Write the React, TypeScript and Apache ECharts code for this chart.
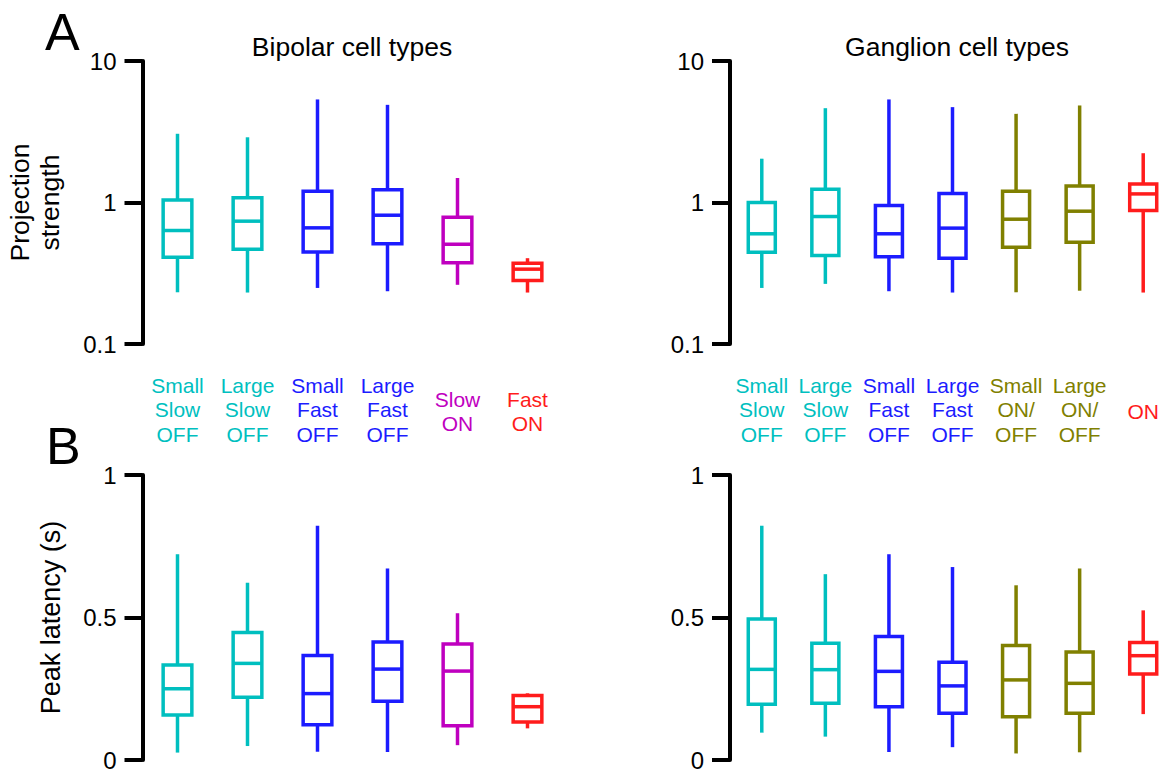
import React, { useEffect, useRef } from "react";
import * as echarts from "echarts";

const CYAN = "#00bfbf";
const BLUE = "#1c1cff";
const MAGENTA = "#bf00bf";
const RED = "#ff1c1c";
const OLIVE = "#808000";

const bipolarLabels = ["Small\nSlow\nOFF", "Large\nSlow\nOFF", "Small\nFast\nOFF", "Large\nFast\nOFF", "Slow\nON", "Fast\nON"];
const bipolarColors = [CYAN, CYAN, BLUE, BLUE, MAGENTA, RED];
const ganglionLabels = ["Small\nSlow\nOFF", "Large\nSlow\nOFF", "Small\nFast\nOFF", "Large\nFast\nOFF", "Small\nON/\nOFF", "Large\nON/\nOFF", "ON"];
const ganglionColors = [CYAN, CYAN, BLUE, BLUE, OLIVE, OLIVE, RED];

// [min, q1, median, q3, max]
const bipolarProjection = [
  [0.232, 0.41, 0.634, 1.04, 3.06],
  [0.231, 0.468, 0.738, 1.08, 2.89],
  [0.249, 0.446, 0.662, 1.2, 5.35],
  [0.236, 0.511, 0.813, 1.23, 4.9],
  [0.262, 0.375, 0.507, 0.787, 1.49],
  [0.231, 0.281, 0.338, 0.372, 0.404],
];
const ganglionProjection = [
  [0.249, 0.445, 0.601, 1.0, 2.04],
  [0.266, 0.422, 0.796, 1.24, 4.64],
  [0.236, 0.413, 0.601, 0.953, 5.35],
  [0.231, 0.404, 0.659, 1.16, 4.72],
  [0.232, 0.483, 0.762, 1.2, 4.23],
  [0.238, 0.524, 0.868, 1.31, 4.85],
  [0.231, 0.878, 1.15, 1.35, 2.23],
];
const bipolarLatency = [
  [0.026, 0.158, 0.25, 0.333, 0.722],
  [0.049, 0.22, 0.339, 0.447, 0.622],
  [0.029, 0.124, 0.233, 0.367, 0.822],
  [0.028, 0.206, 0.319, 0.414, 0.672],
  [0.052, 0.12, 0.312, 0.407, 0.515],
  [0.111, 0.133, 0.187, 0.226, 0.234],
];
const ganglionLatency = [
  [0.096, 0.196, 0.318, 0.495, 0.822],
  [0.082, 0.199, 0.317, 0.41, 0.652],
  [0.028, 0.187, 0.311, 0.433, 0.722],
  [0.045, 0.164, 0.26, 0.343, 0.677],
  [0.023, 0.152, 0.281, 0.402, 0.613],
  [0.027, 0.164, 0.269, 0.379, 0.672],
  [0.161, 0.302, 0.366, 0.412, 0.525],
];

const FONT = "'Liberation Sans', Arial, Helvetica, sans-serif";
const LABEL_LINE = 24.3;

function makeRender(colors: string[], n: number, ratio: number) {
  return (params: any, api: any) => {
    const i = api.value(0);
    const pMin = api.coord([i, api.value(1)]);
    const pQ1 = api.coord([i, api.value(2)]);
    const pMed = api.coord([i, api.value(3)]);
    const pQ3 = api.coord([i, api.value(4)]);
    const pMax = api.coord([i, api.value(5)]);
    const w = (params.coordSys.width / n) * ratio;
    const cx = pMed[0];
    const c = colors[params.dataIndex];
    const st = { stroke: c, lineWidth: 3.5, fill: "none" };
    return {
      type: "group",
      children: [
        { type: "line", shape: { x1: cx, y1: pMax[1], x2: cx, y2: pQ3[1] }, style: st },
        { type: "line", shape: { x1: cx, y1: pQ1[1], x2: cx, y2: pMin[1] }, style: st },
        { type: "rect", shape: { x: cx - w / 2, y: pQ3[1], width: w, height: pQ1[1] - pQ3[1] }, style: st },
        { type: "line", shape: { x1: cx - w / 2, y1: pMed[1], x2: cx + w / 2, y2: pMed[1] }, style: st },
      ],
    };
  };
}

function toRows(arr: number[][]) {
  return arr.map((r, i) => [i, ...r]);
}

function catAxis(gridIndex: number, labels: string[], colors: string[], showLabels: boolean) {
  return {
    type: "category",
    gridIndex,
    data: labels.map((l, i) => {
      const lines = l.split("\n").length;
      // vertically centre shorter labels on the three-line block
      const pad = ((3 - lines) * LABEL_LINE) / 2 + (lines < 3 ? 1.5 : 0);
      return { value: l, textStyle: { color: colors[i], padding: [pad, 0, 0, 0] } };
    }),
    boundaryGap: true,
    axisLine: { show: false },
    axisTick: { show: false },
    splitLine: { show: false },
    axisLabel: {
      show: showLabels,
      interval: 0,
      margin: 29.5,
      verticalAlign: "top",
      fontSize: 21,
      lineHeight: LABEL_LINE,
      fontFamily: FONT,
    },
  };
}

const axisLineStyle = { show: true, lineStyle: { color: "#000", width: 4 } };
const tickStyle = { show: true, inside: false, length: 18, lineStyle: { color: "#000", width: 4 } };
const labelStyle = { color: "#000", fontSize: 24, margin: 26, fontFamily: FONT };

function logAxis(gridIndex: number, name: string) {
  return {
    type: "log",
    logBase: 10,
    gridIndex,
    min: 0.1,
    max: 10,
    axisLine: axisLineStyle,
    axisTick: tickStyle,
    splitLine: { show: false },
    minorTick: { show: false },
    axisLabel: { ...labelStyle, formatter: (v: number) => String(+Number(v).toPrecision(3)) },
    name,
    nameLocation: "middle",
    nameGap: 78,
    nameTextStyle: { fontSize: 26.5, lineHeight: 30, color: "#000", fontFamily: FONT },
  };
}

function linAxis(gridIndex: number, name: string) {
  return {
    type: "value",
    gridIndex,
    min: 0,
    max: 1,
    interval: 0.5,
    axisLine: axisLineStyle,
    axisTick: tickStyle,
    splitLine: { show: false },
    axisLabel: { ...labelStyle, formatter: (v: number) => String(+Number(v).toPrecision(3)) },
    name,
    nameLocation: "middle",
    nameGap: 78,
    nameTextStyle: { fontSize: 27, color: "#000", fontFamily: FONT },
  };
}

export default function App() {
  const ref = useRef<HTMLDivElement>(null);
  useEffect(() => {
    if (!ref.current) return;
    const chart = echarts.init(ref.current, null, { renderer: "svg" });
    const titleStyle = { fontSize: 26.5, fontWeight: "normal", color: "#000", fontFamily: FONT };
    const option: any = {
      animation: false,
      backgroundColor: "#fff",
      textStyle: { fontFamily: FONT },
      title: [
        { text: "Bipolar cell types", left: 347, top: 28, textAlign: "center", textStyle: titleStyle },
        { text: "Ganglion cell types", left: 952, top: 28, textAlign: "center", textStyle: titleStyle },
      ],
      grid: [
        { left: 142.5, top: 61, width: 420, height: 283 },
        { left: 730, top: 61, width: 455, height: 283 },
        { left: 142.5, top: 475, width: 420, height: 285 },
        { left: 730, top: 475, width: 455, height: 285 },
      ],
      xAxis: [
        catAxis(0, bipolarLabels, bipolarColors, true),
        catAxis(1, ganglionLabels, ganglionColors, true),
        catAxis(2, bipolarLabels, bipolarColors, false),
        catAxis(3, ganglionLabels, ganglionColors, false),
      ],
      yAxis: [
        logAxis(0, "Projection\nstrength"),
        logAxis(1, ""),
        linAxis(2, "Peak latency (s)"),
        linAxis(3, ""),
      ],
      series: [
        { type: "custom", xAxisIndex: 0, yAxisIndex: 0, renderItem: makeRender(bipolarColors, bipolarLabels.length, 0.41), data: toRows(bipolarProjection), encode: { x: 0, y: [1, 2, 3, 4, 5] } },
        { type: "custom", xAxisIndex: 1, yAxisIndex: 1, renderItem: makeRender(ganglionColors, ganglionLabels.length, 0.425), data: toRows(ganglionProjection), encode: { x: 0, y: [1, 2, 3, 4, 5] } },
        { type: "custom", xAxisIndex: 2, yAxisIndex: 2, renderItem: makeRender(bipolarColors, bipolarLabels.length, 0.41), data: toRows(bipolarLatency), encode: { x: 0, y: [1, 2, 3, 4, 5] } },
        { type: "custom", xAxisIndex: 3, yAxisIndex: 3, renderItem: makeRender(ganglionColors, ganglionLabels.length, 0.425), data: toRows(ganglionLatency), encode: { x: 0, y: [1, 2, 3, 4, 5] } },
      ],
      graphic: [
        { type: "text", left: 45, top: 6, style: { text: "A", fontSize: 52, lineHeight: 40, fill: "#000", fontFamily: FONT } },
        { type: "text", left: 46, top: 420, style: { text: "B", fontSize: 52, lineHeight: 40, fill: "#000", fontFamily: FONT } },
      ],
    };
    chart.setOption(option);
    return () => chart.dispose();
  }, []);
  return <div ref={ref} style={{ position: "fixed", left: 0, top: 0, width: 1175, height: 773 }} />;
}
